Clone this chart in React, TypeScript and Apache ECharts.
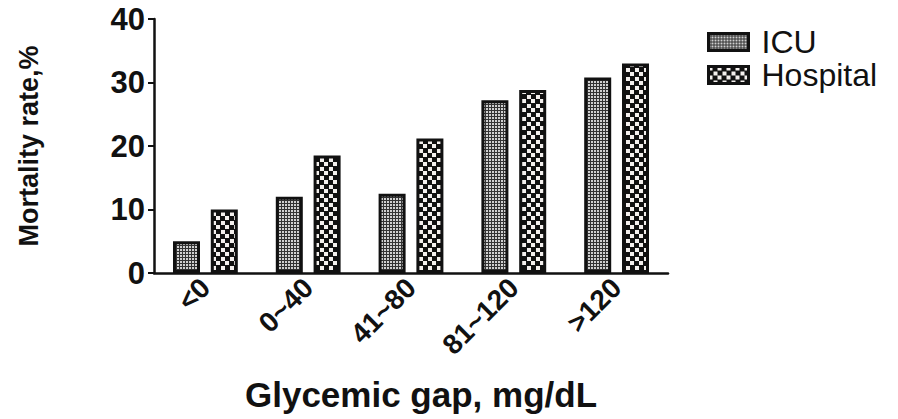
import React, { useEffect, useRef } from "react";
import * as echarts from "echarts";

const categories = ["<0", "0~40", "41~80", "81~120", ">120"];
const icuValues = [5, 12, 12.5, 27.2, 30.8];
const hospitalValues = [10, 18.5, 21.2, 28.8, 33];
const seriesNames = ["ICU", "Hospital"];
const yAxisName = "Mortality rate,%";
const xAxisName = "Glycemic gap, mg/dL";

const FONT = "Liberation Sans, Arial, Helvetica, sans-serif";

function makeIcuPattern(): HTMLCanvasElement {
  const c = document.createElement("canvas");
  c.width = 3;
  c.height = 3;
  const ctx = c.getContext("2d")!;
  ctx.fillStyle = "#333333";
  ctx.fillRect(0, 0, 3, 3);
  ctx.fillStyle = "#d0d0d0";
  ctx.fillRect(0, 0, 2, 2);
  return c;
}

function makeHospitalPattern(): HTMLCanvasElement {
  const c = document.createElement("canvas");
  c.width = 9;
  c.height = 9;
  const ctx = c.getContext("2d")!;
  ctx.fillStyle = "#111111";
  ctx.fillRect(0, 0, 9, 9);
  ctx.fillStyle = "#f4f0ee";
  ctx.fillRect(0, 0, 4, 4);
  ctx.fillRect(5, 5, 4, 4);
  return c;
}

export default function App() {
  const ref = useRef<HTMLDivElement>(null);

  useEffect(() => {
    if (!ref.current) return;
    document.body.style.margin = "0";
    const chart = echarts.init(ref.current, null, { renderer: "svg" });
    const icuFill = { image: makeIcuPattern(), repeat: "repeat" };
    const hospFill = { image: makeHospitalPattern(), repeat: "repeat" };

    chart.setOption({
      animation: false,
      backgroundColor: "#ffffff",
      textStyle: { fontFamily: FONT },
      legend: {
        orient: "vertical",
        left: 702,
        top: 21,
        itemWidth: 40,
        itemHeight: 17,
        itemGap: 1,
        icon: "rect",
        itemStyle: { borderWidth: 3, borderColor: "#111" },
        textStyle: {
          fontFamily: FONT,
          fontSize: 32,
          color: "#111",
          padding: [0, 0, 0, 8],
        },
        data: seriesNames,
      },
      grid: { left: 154, top: 19, width: 514, height: 254 },
      xAxis: {
        type: "category",
        data: categories,
        name: xAxisName,
        nameLocation: "middle",
        nameGap: 104,
        nameTextStyle: {
          fontFamily: FONT,
          fontSize: 35,
          fontWeight: "bold",
          color: "#111",
          padding: [0, 0, 0, 20],
        },
        axisLine: { lineStyle: { color: "#111", width: 2.5 } },
        axisTick: {
          alignWithLabel: true,
          length: 6,
          lineStyle: { color: "#111", width: 2 },
        },
        axisLabel: {
          rotate: 45,
          margin: 10,
          fontFamily: FONT,
          fontSize: 28,
          fontWeight: "bold",
          color: "#111",
        },
      },
      yAxis: {
        type: "value",
        min: 0,
        max: 40,
        interval: 10,
        name: yAxisName,
        nameLocation: "middle",
        nameRotate: 90,
        nameGap: 112,
        nameTextStyle: {
          fontFamily: FONT,
          fontSize: 27,
          fontWeight: "bold",
          color: "#111",
        },
        splitLine: { show: false },
        axisLine: { show: true, lineStyle: { color: "#111", width: 2.5 } },
        axisTick: { show: true, length: 6, lineStyle: { color: "#111", width: 2 } },
        axisLabel: {
          margin: 9,
          fontFamily: FONT,
          fontSize: 31,
          fontWeight: "bold",
          color: "#111",
        },
      },
      series: [
        {
          name: seriesNames[0],
          type: "bar",
          data: icuValues,
          barWidth: 27,
          barGap: "40%",
          itemStyle: { color: icuFill, borderColor: "#111", borderWidth: 3 },
        },
        {
          name: seriesNames[1],
          type: "bar",
          data: hospitalValues,
          barWidth: 27,
          barGap: "40%",
          itemStyle: { color: hospFill, borderColor: "#111", borderWidth: 3 },
        },
      ],
    });

    return () => chart.dispose();
  }, []);

  return <div ref={ref} style={{ width: 898, height: 419 }} />;
}
